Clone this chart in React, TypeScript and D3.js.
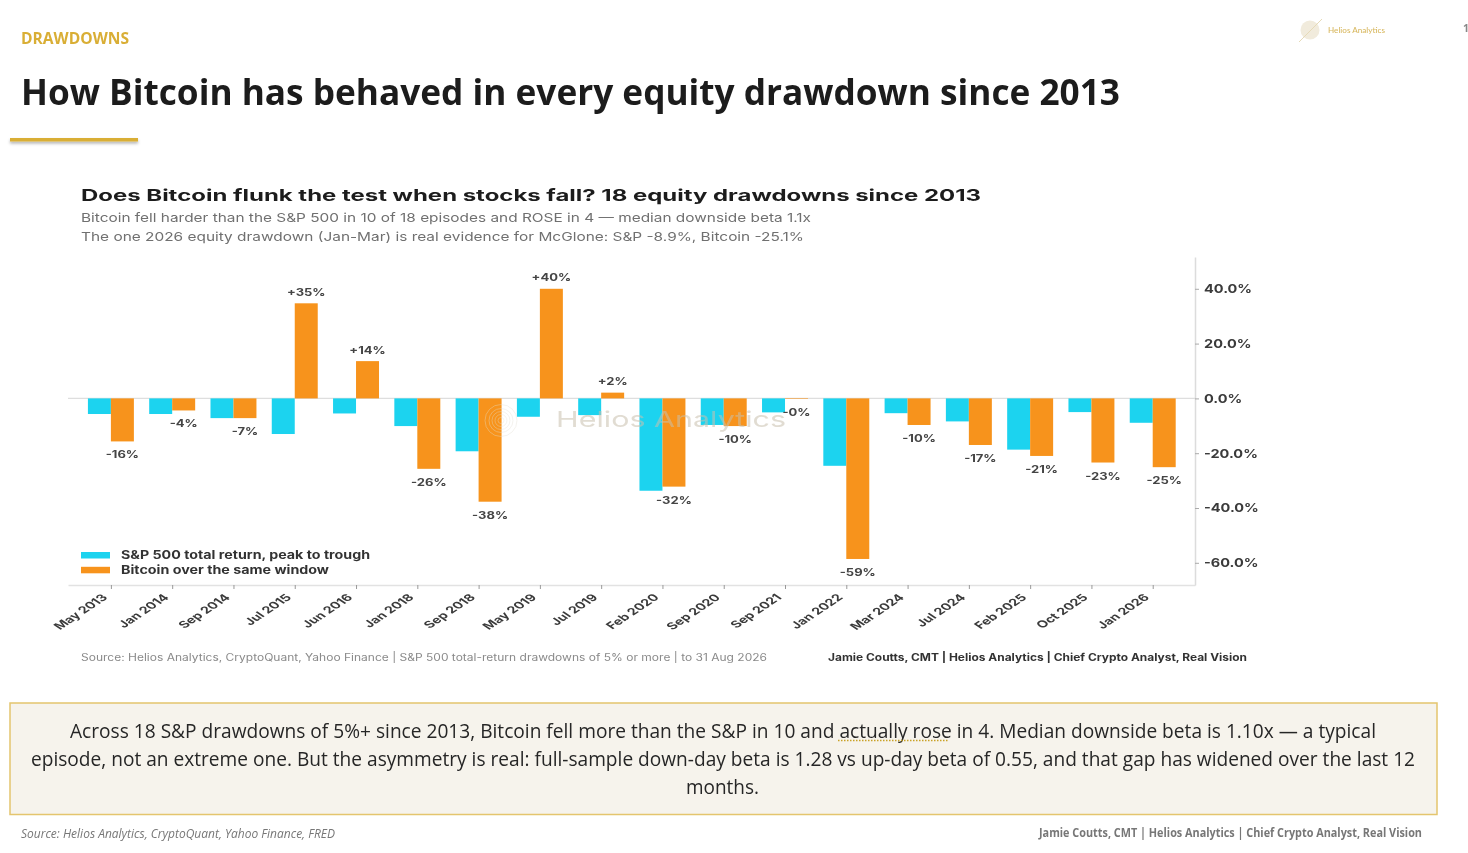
import { useRef, useEffect } from "react";
import * as d3 from "d3";

const categories: string[] = [
    "May 2013", "Jan 2014", "Sep 2014", "Jul 2015", "Jun 2016", "Jan 2018",
    "Sep 2018", "May 2019", "Jul 2019", "Feb 2020", "Sep 2020", "Sep 2021",
    "Jan 2022", "Mar 2024", "Jul 2024", "Feb 2025", "Oct 2025", "Jan 2026"
];
const spxReturn: number[] = [
    -5.7, -5.7, -7.2, -13.0, -5.5, -10.1, -19.3, -6.7, -6.1,
    -33.7, -9.7, -5.1, -24.6, -5.4, -8.4, -18.7, -5.0, -8.9
];
const btcReturn: number[] = [
    -15.7, -4.4, -7.2, 34.7, 13.6, -25.7, -37.7, 40.0, 2.1,
    -32.2, -10.1, -0.2, -58.6, -9.7, -17.0, -21.0, -23.4, -25.1
];
const yTicks: number[] = [40, 20, 0, -20, -40, -60];
const legendLabels: string[] = ["S&P 500 total return, peak to trough", "Bitcoin over the same window"];

const CYAN = "#1dd3ef";
const ORANGE = "#f7931a";
const GOLD = "#d9ae35";
const OPEN = "'Open Sans', sans-serif";
const INTER = "Inter, sans-serif";
const STRETCH = 1.5; // the chart was pasted in wider than it was drawn

// text placed by its left and right edge
function label(
    g: d3.Selection<any, unknown, null, undefined>,
    str: string, x0: number, x1: number, y: number,
    size: number, weight: number, color: string, family: string, italic = false
) {
    return g.append("text")
        .attr("x", x0)
        .attr("y", y)
        .attr("textLength", x1 - x0)
        .attr("lengthAdjust", "spacingAndGlyphs")
        .attr("font-family", family)
        .attr("font-size", size)
        .attr("font-weight", weight)
        .attr("font-style", italic ? "italic" : "normal")
        .attr("fill", color)
        .text(str);
}

// same, for the slide text that is taller and narrower than the font
function tallLabel(
    g: d3.Selection<any, unknown, null, undefined>,
    str: string, x0: number, x1: number, y: number, k: number,
    size: number, weight: number, color: string, family: string, italic = false
) {
    const row = g.append("g").attr("transform", `translate(0,${y}) scale(1,${k})`);
    return label(row, str, x0, x1, 0, size, weight, color, family, italic);
}

export default function App() {
    const svgRef = useRef<SVGSVGElement>(null);

    useEffect(() => {
        const svg = d3.select<SVGSVGElement, unknown>(svgRef.current as SVGSVGElement);
        svg.selectAll("*").remove();

        const defs = svg.append("defs");
        const shadow = defs.append("filter").attr("id", "ruleShadow")
            .attr("x", "-5%").attr("y", "-100%").attr("width", "110%").attr("height", "400%");
        shadow.append("feDropShadow")
            .attr("dx", 0).attr("dy", 2).attr("stdDeviation", 1.5)
            .attr("flood-color", "#000").attr("flood-opacity", 0.3);
        const soft = defs.append("filter").attr("id", "soft")
            .attr("x", 0).attr("y", 0).attr("width", 1).attr("height", 1)
            .attr("filterUnits", "objectBoundingBox");
        soft.append("feGaussianBlur").attr("stdDeviation", 0.5);

        const root = svg.append("g").attr("filter", "url(#soft)");
        root.append("rect").attr("width", 1468).attr("height", 853).attr("fill", "#fff");

        // slide header
        tallLabel(root, "DRAWDOWNS", 21, 129, 43.5, 1.15, 14, 700, GOLD, OPEN);
        label(root, "How Bitcoin has behaved in every equity drawdown since 2013", 21, 1120, 105, 36, 700, "#1a1a1a", OPEN);
        root.append("rect")
            .attr("x", 10).attr("y", 138).attr("width", 128).attr("height", 3.5)
            .attr("fill", GOLD).attr("filter", "url(#ruleShadow)");

        // logo top right
        root.append("circle").attr("cx", 1310).attr("cy", 30).attr("r", 9.5).attr("fill", "#f1ebdc");
        root.append("line")
            .attr("x1", 1299).attr("y1", 42).attr("x2", 1322).attr("y2", 19)
            .attr("stroke", "#e6dab8").attr("stroke-width", 1);
        label(root, "Helios Analytics", 1328, 1385, 33, 8, 500, "#d8b860", "Lato, sans-serif");
        label(root, "1", 1463, 1469, 32, 11, 700, "#888", OPEN);

        // chart titles
        label(root, "Does Bitcoin flunk the test when stocks fall? 18 equity drawdowns since 2013", 81, 981, 201, 16, 700, "#1f1f1f", INTER);
        label(root, "Bitcoin fell harder than the S&P 500 in 10 of 18 episodes and ROSE in 4 \u2014 median downside beta 1.1x", 81, 811, 222, 12, 400, "#707070", INTER);
        label(root, "The one 2026 equity drawdown (Jan-Mar) is real evidence for McGlone: S&P -8.9%, Bitcoin -25.1%", 81, 804, 241, 12, 400, "#707070", INTER);

        // scales
        const xScale = d3.scaleLinear().domain([-0.7, 17.69]).range([68, 1195]);
        const yScale = d3.scaleLinear().domain([51.6, -68.1]).range([257, 585]);
        const barW = (xScale(1) - xScale(0)) * 0.375;
        const pos = categories.map((_, i) => i);

        // axes
        const gX = root.append("g")
            .attr("transform", `translate(0,${yScale(-68.1)})`)
            .call(d3.axisBottom(xScale)
                .tickValues(pos)
                .tickFormat((d) => categories[d as number])
                .tickSize(4)
                .tickSizeOuter(0)
                .tickPadding(6));
        gX.select(".domain").attr("stroke", "#e2e2e2").attr("stroke-width", 1.5);
        gX.selectAll(".tick line").attr("stroke", "#999");
        gX.selectAll<SVGTextElement, number>(".tick text")
            .attr("y", 0).attr("dy", null)
            .attr("text-anchor", "end")
            .attr("transform", `translate(-3,13) scale(${STRETCH},1) rotate(-45)`)
            .attr("font-family", INTER).attr("font-size", 9.7).attr("font-weight", 700)
            .attr("fill", "#3a3a3a");

        const gY = root.append("g")
            .attr("transform", `translate(${xScale(17.69)},0)`)
            .call(d3.axisRight(yScale)
                .tickValues(yTicks)
                .tickFormat((d) => `${(d as number).toFixed(1)}%`)
                .tickSize(4)
                .tickSizeOuter(0));
        gY.select(".domain").attr("stroke", "#dcdcdc").attr("stroke-width", 1.5);
        gY.selectAll(".tick line").attr("stroke", "#aaa");
        gY.selectAll<SVGTextElement, number>(".tick text")
            .attr("x", 0)
            .attr("transform", "translate(9,0) scale(1.21,1)")
            .attr("font-family", INTER).attr("font-size", 12).attr("font-weight", 700)
            .attr("fill", "#3a3a3a");

        // zero line
        root.append("line")
            .attr("x1", xScale(-0.7)).attr("x2", xScale(17.69))
            .attr("y1", yScale(0)).attr("y2", yScale(0))
            .attr("stroke", "#dedede").attr("stroke-width", 1.2);

        // bars
        root.append("g").selectAll("rect").data(pos).join("rect")
            .attr("x", i => xScale(i) - barW)
            .attr("y", i => Math.min(yScale(spxReturn[i]), yScale(0)))
            .attr("width", barW)
            .attr("height", i => Math.abs(yScale(spxReturn[i]) - yScale(0)))
            .attr("fill", CYAN);
        root.append("g").selectAll("rect").data(pos).join("rect")
            .attr("x", i => xScale(i))
            .attr("y", i => Math.min(yScale(btcReturn[i]), yScale(0)))
            .attr("width", barW)
            .attr("height", i => Math.abs(yScale(btcReturn[i]) - yScale(0)))
            .attr("fill", ORANGE);

        // bitcoin value labels
        root.append("g").selectAll("text").data(pos).join("text")
            .attr("transform", i => {
                const v = btcReturn[i];
                const y = v >= 0 ? yScale(v) - 7.5 : yScale(v) + 17;
                return `translate(${xScale(i) + barW / 2},${y}) scale(1.3,1)`;
            })
            .attr("text-anchor", "middle")
            .attr("font-family", INTER).attr("font-size", 10).attr("font-weight", 700)
            .attr("fill", "#444")
            .text(i => `${btcReturn[i] >= 0 ? "+" : "-"}${Math.round(Math.abs(btcReturn[i]))}%`);

        // watermark sits over the bars
        const mark = root.append("g").attr("opacity", 0.55);
        label(mark, "Helios Analytics", 556, 786, 427, 22, 400, "#c9c0ae", INTER);
        [3, 6, 9, 12, 16].forEach(r => {
            mark.append("circle")
                .attr("cx", 501).attr("cy", 420.5).attr("r", r)
                .attr("fill", "none").attr("stroke", "#e3ded3").attr("stroke-width", 0.7);
        });

        // legend
        [CYAN, ORANGE].forEach((c, i) => {
            root.append("rect")
                .attr("x", 81).attr("y", 552 + i * 14.8).attr("width", 29).attr("height", 6.5)
                .attr("fill", c);
        });
        label(root, legendLabels[0], 121, 370, 558.8, 11.5, 700, "#333", INTER);
        label(root, legendLabels[1], 121, 329, 574, 11.5, 700, "#333", INTER);

        // chart footer
        label(root, "Source: Helios Analytics, CryptoQuant, Yahoo Finance | S&P 500 total-return drawdowns of 5% or more | to 31 Aug 2026", 81, 767, 661, 10, 400, "#8a8a8a", INTER);
        label(root, "Jamie Coutts, CMT | Helios Analytics | Chief Crypto Analyst, Real Vision", 828, 1247, 661, 10, 700, "#333", INTER);

        // callout
        root.append("rect")
            .attr("x", 10).attr("y", 703).attr("width", 1427).attr("height", 111.5)
            .attr("fill", "#f6f3ec").attr("stroke", "#e4c56e").attr("stroke-width", 1.5);
        tallLabel(root, "Across 18 S&P drawdowns of 5%+ since 2013, Bitcoin fell more than the S&P in 10 and actually rose in 4. Median downside beta is 1.10x \u2014 a typical", 70, 1376, 738, 1.2, 17, 400, "#262626", OPEN);
        tallLabel(root, "episode, not an extreme one. But the asymmetry is real: full-sample down-day beta is 1.28 vs up-day beta of 0.55, and that gap has widened over the last 12", 31, 1415, 766, 1.2, 17, 400, "#262626", OPEN);
        tallLabel(root, "months.", 686, 759, 794, 1.2, 17, 400, "#262626", OPEN);
        root.append("line")
            .attr("x1", 838).attr("x2", 948).attr("y1", 740.5).attr("y2", 740.5)
            .attr("stroke", "#c9a227").attr("stroke-width", 1.5).attr("stroke-dasharray", "1.5,1.5");

        // slide footer
        tallLabel(root, "Source: Helios Analytics, CryptoQuant, Yahoo Finance, FRED", 21, 335, 837.5, 1.15, 11, 400, "#777", OPEN, true);
        tallLabel(root, "Jamie Coutts, CMT | Helios Analytics | Chief Crypto Analyst, Real Vision", 1039, 1422, 837.5, 1.15, 11, 700, "#777", OPEN);
    }, []);

    return <svg ref={svgRef} width={1468} height={853} style={{ display: "block", position: "absolute", left: 0, top: 0 }} />;
}
